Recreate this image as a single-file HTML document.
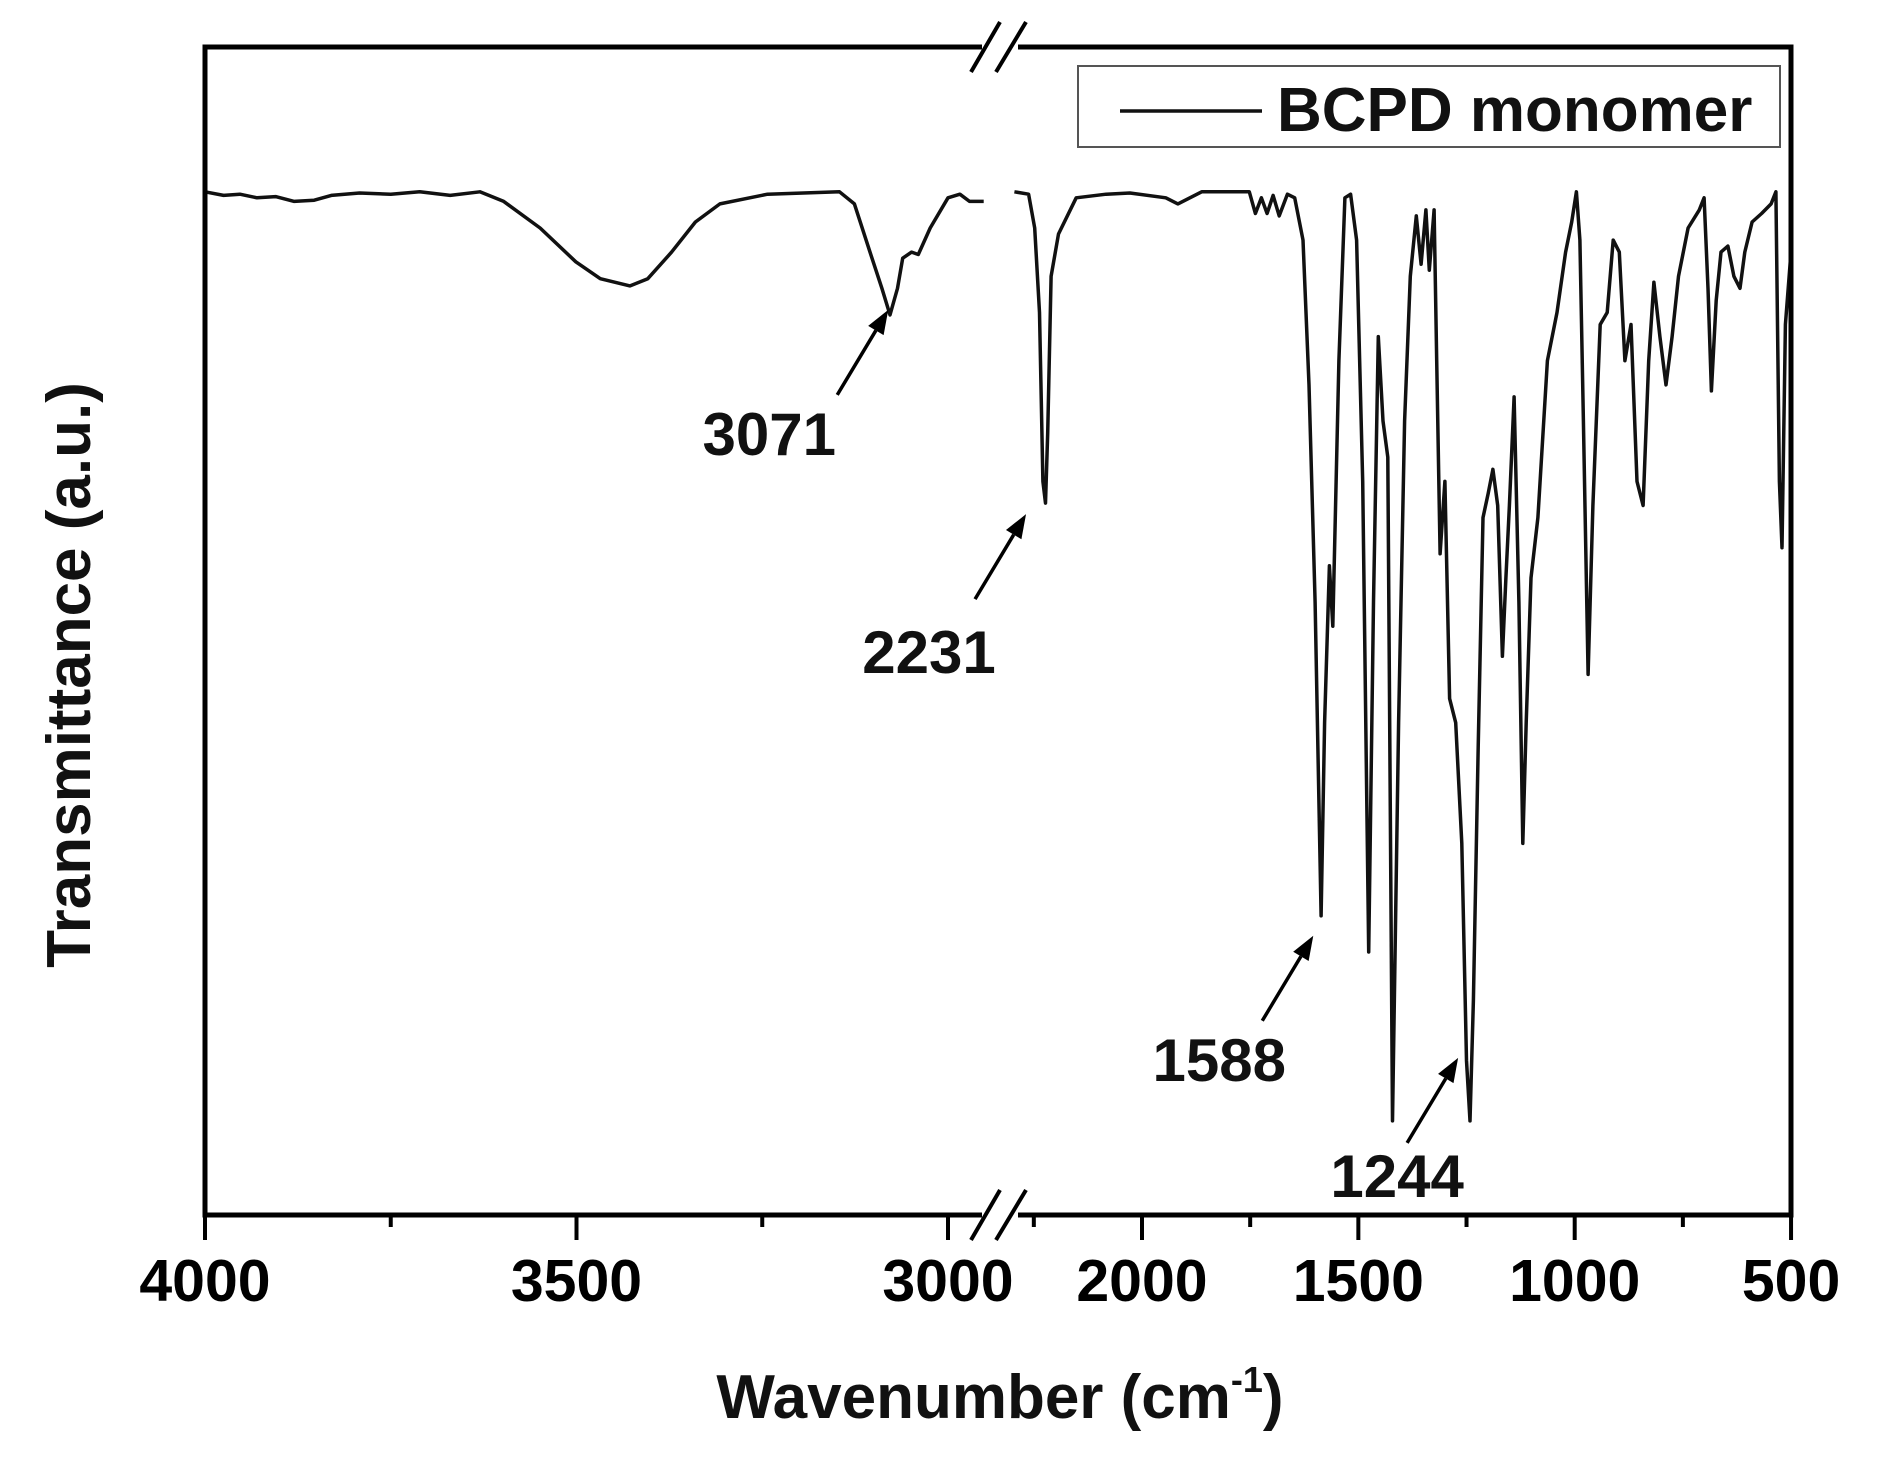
<!DOCTYPE html>
<html><head><meta charset="utf-8"><style>
html,body{margin:0;padding:0;background:#fff;}
svg{display:block;font-family:"Liberation Sans",Arial,sans-serif;}
</style></head><body>
<svg id="chart" width="1881" height="1459" viewBox="0 0 1881 1459" xmlns="http://www.w3.org/2000/svg">
<rect x="0" y="0" width="1881" height="1459" fill="#fff"/>
<g id="plot"></g>
</svg>
<script>
// ---- data ----
const leftWn = [4000,3975,3953,3930,3905,3880,3853,3830,3792,3750,3711,3670,3630,3598,3549,3501,3468,3428,3404,3372,3340,3307,3243,3146,3126,3105,3089,3078,3068,3061,3049,3040,3024,3000,2984,2971,2952];
const leftT  = [84.8,84.5,84.6,84.3,84.4,84.0,84.1,84.5,84.7,84.6,84.8,84.5,84.8,84.0,81.8,79.0,77.6,77.0,77.6,79.8,82.3,83.8,84.6,84.8,83.8,79.8,76.8,74.6,76.8,79.3,79.8,79.6,81.8,84.3,84.6,84.0,84.0];
const rightWn = [2295,2262,2248,2237,2229,2223,2218,2210,2193,2152,2083,2028,1945,1917,1862,1752,1738,1724,1711,1697,1683,1664,1647,1628,1614,1600,1586,1578,1567,1559,1545,1531,1518,1504,1490,1476,1465,1454,1443,1432,1421,1407,1393,1380,1366,1355,1344,1336,1325,1319,1311,1300,1289,1275,1261,1250,1242,1234,1223,1212,1200,1189,1178,1167,1159,1151,1140,1129,1120,1112,1101,1085,1063,1041,1021,1007,996,988,980,969,958,941,925,911,897,884,870,856,842,829,817,803,789,775,760,738,712,701,692,684,673,662,646,632,618,607,590,568,546,535,527,521,513,500];
const rightT  = [84.8,84.6,81.8,74.8,60.8,59.0,64.8,77.8,81.3,84.3,84.6,84.7,84.3,83.8,84.8,84.8,83.0,84.3,83.0,84.5,82.8,84.6,84.3,80.8,68.8,50.8,24.8,40.8,53.8,48.8,70.8,84.3,84.6,80.8,60.8,21.8,50.8,72.8,65.8,62.8,7.8,40.8,65.8,77.8,82.8,78.8,83.3,78.3,83.3,70.8,54.8,60.8,42.8,40.8,30.8,12.8,7.8,17.8,38.8,57.8,59.8,61.8,58.8,46.3,52.8,58.8,67.8,50.8,30.8,40.8,52.8,57.8,70.8,74.8,79.8,82.3,84.8,80.8,65.8,44.8,58.8,73.8,74.8,80.8,79.8,70.8,73.8,60.8,58.8,70.8,77.3,72.8,68.8,72.8,77.8,81.8,83.3,84.3,76.8,68.3,75.8,79.8,80.3,77.8,76.8,79.8,82.3,83.0,83.8,84.8,60.8,55.3,73.8,79.8];
const tickWn = [4000,3500,3000,2000,1500,1000,500];
const tickLabels = ["4000","3500","3000","2000","1500","1000","500"];
const minorWn = [3750,3250,2250,1750,1250,750];
const peakWn = [3071,2231,1588,1244];
const peakLabels = ["3071","2231","1588","1244"];
const peakT = [74.6,59.0,24.8,7.8];

// ---- axes ----
const L=205,R=1791,T=47,B=1215;
function xs(w){ return w>=2600 ? L+(4000-w)*0.743 : 1142+(2000-w)*0.4327; }
function ys(v){ return B-(v/96.8)*(B-T); }
const NS="http://www.w3.org/2000/svg";
const g=document.getElementById('plot');
function mk(tag,attrs,parent){const e=document.createElementNS(NS,tag);for(const k in attrs)e.setAttribute(k,attrs[k]);(parent||g).appendChild(e);return e;}

function pathOf(ws,ts){return ws.map((w,i)=>(i?'L':'M')+xs(w).toFixed(1)+','+ys(ts[i]).toFixed(1)).join(' ');}
const s1=mk('path',{d:pathOf(leftWn,leftT),fill:'none',stroke:'#111','stroke-width':3.5,'stroke-linejoin':'round'});


const s2=mk('path',{d:pathOf(rightWn,rightT),fill:'none',stroke:'#111','stroke-width':3.5,'stroke-linejoin':'round'});



const fr=mk('rect',{x:L,y:T,width:R-L,height:B-T,fill:'none',stroke:'#000','stroke-width':5});



[T,B].forEach((yy,i)=>{
  const bg=mk('g',{});
  
  
  mk('rect',{x:982,y:yy-6,width:36,height:12,fill:'#fff'},bg);
  mk('line',{x1:971,y1:yy+25,x2:1000,y2:yy-25,stroke:'#000','stroke-width':4},bg);
  mk('line',{x1:996,y1:yy+25,x2:1026,y2:yy-25,stroke:'#000','stroke-width':4},bg);
});

tickWn.forEach((w,i)=>{
  const t=mk('line',{x1:xs(w),y1:B,x2:xs(w),y2:B+25,stroke:'#000','stroke-width':4});
  
  
  const tx=mk('text',{x:xs(w),y:1301,'text-anchor':'middle','font-size':59,'font-weight':'bold',fill:'#000'});
  tx.textContent=tickLabels[i];
  
  
});
minorWn.forEach(w=>{
  const t=mk('line',{x1:xs(w),y1:B,x2:xs(w),y2:B+12,stroke:'#000','stroke-width':4});
  
  
});

// annotations: tip offset from peak point, label offset (layout)
const tipOff=[[-7,-5],[-16,11],[-7,20],[-11,-63]];
const lblOff=[[0,0],[22,14],[25,0],[58,-6]];
peakWn.forEach((w,i)=>{
  const ax=xs(w)+tipOff[i][0], ay=ys(peakT[i])+tipOff[i][1];
  const sx=ax-51, sy=ay+85;
  const a=mk('g',{});
  
  
  const dx=ax-sx, dy=ay-sy, len=Math.hypot(dx,dy), ux=dx/len, uy=dy/len;
  const hl=24, hw=9;
  const bx=ax-ux*hl, by=ay-uy*hl;
  mk('line',{x1:sx,y1:sy,x2:bx,y2:by,stroke:'#000','stroke-width':3.5},a);
  mk('polygon',{points:`${ax},${ay} ${bx-uy*hw},${by+ux*hw} ${bx+uy*hw},${by-ux*hw}`,fill:'#000'},a);
  const tx=mk('text',{x:sx-68+lblOff[i][0],y:sy+60+lblOff[i][1],'text-anchor':'middle','font-size':60,'font-weight':'bold',fill:'#111'},a);
  tx.textContent=peakLabels[i];
});

const lg=mk('g',{});


mk('rect',{x:1078,y:66,width:702,height:81,fill:'#fff',stroke:'#555','stroke-width':2},lg);
mk('line',{x1:1120,y1:111,x2:1262,y2:111,stroke:'#111','stroke-width':3.5},lg);
const lt=mk('text',{x:1277,y:131,'font-size':62,'font-weight':'bold',fill:'#111'},lg);
lt.textContent='BCPD monomer';

const xt=mk('text',{x:1000,y:1418,'text-anchor':'middle','font-size':62,'font-weight':'bold',fill:'#111'});


xt.innerHTML='Wavenumber (cm<tspan dy="-26" font-size="36">-1</tspan><tspan dy="26">)</tspan>';
const yt=mk('text',{x:0,y:0,'text-anchor':'middle','font-size':62,'font-weight':'bold',fill:'#111',transform:'translate(90,675) rotate(-90)'});


yt.textContent='Transmittance (a.u.)';
</script>
</body></html>
